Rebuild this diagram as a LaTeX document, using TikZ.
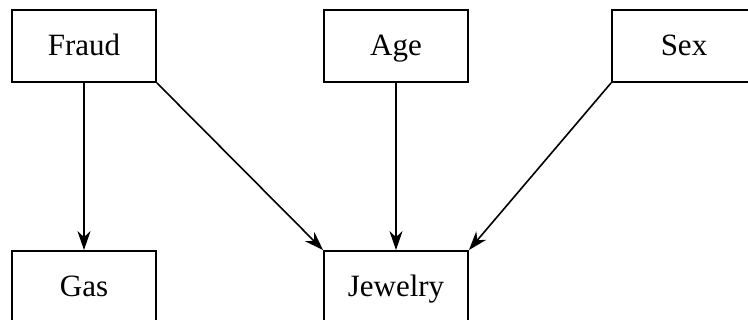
\documentclass[tikz,border=0pt]{standalone}
\usepackage{fontspec}
\setmainfont{Liberation Serif}
\usetikzlibrary{arrows.meta}
\begin{document}
\begin{tikzpicture}[x=1pt,y=1pt,
  var/.style={draw, line width=1.8pt, minimum width=144pt, minimum height=72pt, inner sep=0pt, font=\fontsize{31}{32}\selectfont, text height=20pt, text depth=0pt, fill=white},
  edge/.style={line width=1.6pt, -{Stealth[length=19pt,width=13pt,inset=6pt]}}]
\useasboundingbox (0,0) rectangle (748,-320);
\clip (0,0) rectangle (748,-320);
\node[var] (fraud) at (84,-46) {Fraud};
\node[var] (age) at (396,-46) {Age};
\node[var] (sex) at (684,-46) {Sex};
\node[var] (gas) at (84,-287) {Gas};
\node[var] (jewelry) at (396,-287) {Jewelry};
\draw[edge] (fraud.south) -- (gas.north);
\draw[edge] (fraud.south east) -- (jewelry.north west);
\draw[edge] (age.south) -- (jewelry.north);
\draw[edge] (sex.south west) -- (jewelry.north east);
\end{tikzpicture}
\end{document}
